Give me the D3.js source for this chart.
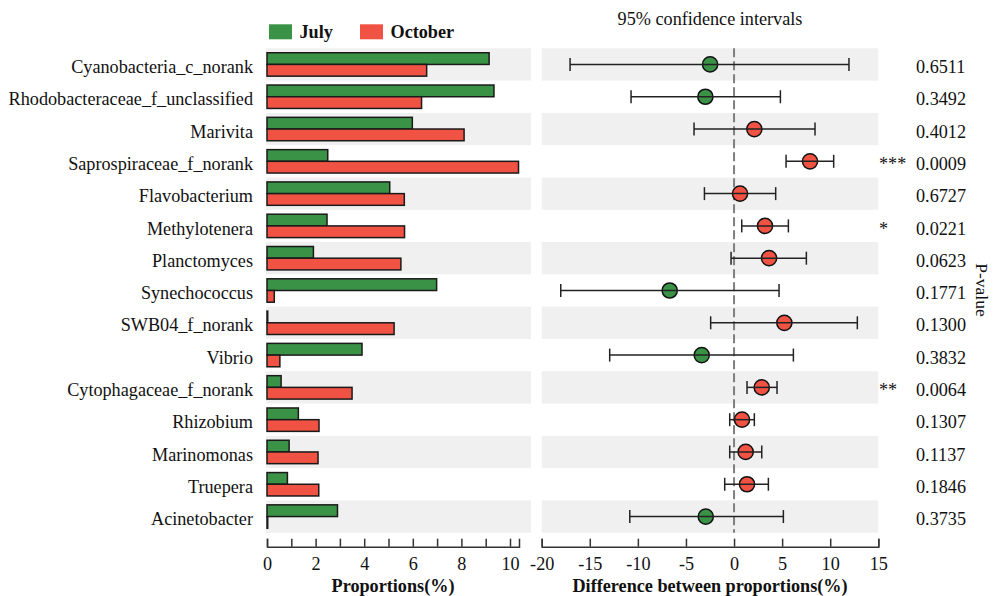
<!DOCTYPE html>
<html>
<head>
<meta charset="utf-8">
<script src="https://cdn.jsdelivr.net/npm/d3@7/dist/d3.min.js"></script>
<style>
  html, body { margin: 0; padding: 0; background: #fff; }
  svg { display: block; font-family: "Liberation Serif", "Times New Roman", serif; }
</style>
</head>
<body>
<svg id="chart" width="993" height="596"></svg>
<script>
// ---- data ----
const categories = [
  "Cyanobacteria_c_norank", "Rhodobacteraceae_f_unclassified", "Marivita",
  "Saprospiraceae_f_norank", "Flavobacterium", "Methylotenera", "Planctomyces",
  "Synechococcus", "SWB04_f_norank", "Vibrio", "Cytophagaceae_f_norank",
  "Rhizobium", "Marinomonas", "Truepera", "Acinetobacter"
];
const july    = [9.14, 9.34, 5.98, 2.50, 5.05, 2.47, 1.91, 6.98, 0.03, 3.91, 0.58, 1.29, 0.91, 0.84, 2.90];
const october = [6.57, 6.36, 8.11, 10.35, 5.65, 5.66, 5.51, 0.30, 5.23, 0.53, 3.50, 2.14, 2.10, 2.13, 0.03];
const diffEst   = [-2.49, -2.98, 2.11, 7.90, 0.62, 3.22, 3.64, -6.69, 5.23, -3.36, 2.88, 0.83, 1.21, 1.35, -2.94];
const ciLow     = [-17.05, -10.71, -4.16, 5.41, -3.08, 0.80, -0.31, -18.02, -2.43, -12.93, 1.35, -0.45, -0.45, -0.97, -10.84];
const ciHigh    = [11.95, 4.82, 8.42, 10.36, 4.33, 5.65, 7.52, 4.68, 12.82, 6.17, 4.47, 2.11, 2.88, 3.57, 5.13];
const pValues   = ["0.6511", "0.3492", "0.4012", "0.0009", "0.6727", "0.0221", "0.0623", "0.1771", "0.1300", "0.3832", "0.0064", "0.1307", "0.1137", "0.1846", "0.3735"];
const propTicks = [0, 1, 2, 3, 4, 5, 6, 7, 8, 9, 10];
const diffTicks = [-20, -15, -10, -5, 0, 5, 10, 15];
const groups = ["July", "October"];

// ---- style ----
const GREEN = "#3a9247", RED = "#f05344", BAND = "#f0f0f0";
const FS = 18.2;
const FF = "Liberation Serif, Times New Roman, serif";
const svg = d3.select("#chart");

const y = d3.scaleBand().domain(categories).range([48.3, 532.7]);
const xL = d3.scaleLinear().domain([0, 10.37]).range([267, 519]);
const xR = d3.scaleLinear().domain([-20, 15]).range([541.7, 878.3]);
const color = d3.scaleOrdinal().domain(groups).range([GREEN, RED]);

const rows = categories.map((c, i) => ({
  c, i, july: july[i], october: october[i], est: diffEst[i], lo: ciLow[i], hi: ciHigh[i], p: pValues[i]
}));

// bands
svg.append("g").selectAll("rect").data(rows.filter(d => d.i % 2 === 0)).join("rect")
  .attr("x", 266).attr("width", 531 - 266)
  .attr("y", d => y(d.c)).attr("height", y.bandwidth())
  .attr("fill", BAND);
svg.append("g").selectAll("rect").data(rows.filter(d => d.i % 2 === 0)).join("rect")
  .attr("x", xR.range()[0]).attr("width", xR.range()[1] - xR.range()[0])
  .attr("y", d => y(d.c)).attr("height", y.bandwidth())
  .attr("fill", BAND);

// labels
svg.append("g").selectAll("text").data(rows).join("text")
  .attr("x", 253).attr("y", d => y(d.c) + y.bandwidth() / 2 + 8.6)
  .attr("text-anchor", "end").attr("font-size", FS).attr("fill", "#111")
  .text(d => d.c);

// bars
const barH = 11.7;
const off = (y.bandwidth() - 2 * barH) / 2;
const barG = svg.append("g");
groups.forEach((g, gi) => {
  const key = g === "July" ? "july" : "october";
  barG.selectAll("rect." + key).data(rows).join("rect")
    .attr("class", key)
    .attr("x", xL(0))
    .attr("y", d => y(d.c) + off + gi * barH)
    .attr("width", d => xL(d[key]) - xL(0))
    .attr("height", barH)
    .attr("fill", color(g)).attr("stroke", "#1a1a1a").attr("stroke-width", 1.5);
});

// left axis
const axL = d3.axisBottom(xL).tickValues(propTicks)
  .tickSizeInner(-8).tickSizeOuter(-8).tickPadding(10)
  .tickFormat(d => d % 2 === 0 ? String(d) : "");
const gL = svg.append("g").attr("transform", "translate(0,546.7)").call(axL);
gL.attr("font-family", FF);
gL.select(".domain").attr("stroke", "#333").attr("stroke-width", 1.5);
gL.selectAll(".tick line").attr("stroke", "#333").attr("stroke-width", 1.5);
gL.selectAll(".tick text").attr("font-size", FS).attr("fill", "#111").attr("font-family", FF);
svg.append("text").attr("x", 393).attr("y", 592).attr("text-anchor", "middle")
  .attr("font-size", FS).attr("font-weight", "bold").attr("fill", "#111")
  .text("Proportions(%)");

// right axis
const axR = d3.axisBottom(xR).tickValues(diffTicks)
  .tickSizeInner(-8).tickSizeOuter(-8).tickPadding(10)
  .tickFormat(d => String(d));
const gR = svg.append("g").attr("transform", "translate(0,546.7)").call(axR);
gR.attr("font-family", FF);
gR.select(".domain").attr("stroke", "#333").attr("stroke-width", 1.5);
gR.selectAll(".tick line").attr("stroke", "#333").attr("stroke-width", 1.5);
gR.selectAll(".tick text").attr("font-size", FS).attr("fill", "#111").attr("font-family", FF);
svg.append("text").attr("x", 710).attr("y", 592).attr("text-anchor", "middle")
  .attr("font-size", FS).attr("font-weight", "bold").attr("fill", "#111")
  .text("Difference between proportions(%)");

// zero dashed line
svg.append("line")
  .attr("x1", xR(0)).attr("x2", xR(0))
  .attr("y1", y.range()[0]).attr("y2", y.range()[1])
  .attr("stroke", "#7f7f7f").attr("stroke-width", 2).attr("stroke-dasharray", "9,4");

// CI points
const ciG = svg.append("g");
const cy = d => y(d.c) + y.bandwidth() / 2;
ciG.selectAll("circle").data(rows).join("circle")
  .attr("cx", d => xR(d.est)).attr("cy", cy).attr("r", 7.6)
  .attr("fill", d => d.est < 0 ? GREEN : RED)
  .attr("stroke", "#111").attr("stroke-width", 1.5);
ciG.selectAll("line.ci").data(rows).join("line").attr("class", "ci")
  .attr("x1", d => xR(d.lo)).attr("x2", d => xR(d.hi))
  .attr("y1", cy).attr("y2", cy)
  .attr("stroke", "#222").attr("stroke-width", 1.5);
ciG.selectAll("line.capL").data(rows).join("line").attr("class", "capL")
  .attr("x1", d => xR(d.lo)).attr("x2", d => xR(d.lo))
  .attr("y1", d => cy(d) - 6.5).attr("y2", d => cy(d) + 6.5)
  .attr("stroke", "#222").attr("stroke-width", 1.5);
ciG.selectAll("line.capH").data(rows).join("line").attr("class", "capH")
  .attr("x1", d => xR(d.hi)).attr("x2", d => xR(d.hi))
  .attr("y1", d => cy(d) - 6.5).attr("y2", d => cy(d) + 6.5)
  .attr("stroke", "#222").attr("stroke-width", 1.5);

// p-values and stars
svg.append("g").selectAll("text").data(rows).join("text")
  .attr("x", 916).attr("y", d => cy(d) + 8.6)
  .attr("font-size", FS).attr("fill", "#111")
  .text(d => d.p);
const stars = p => (+p < 0.001 ? "***" : +p < 0.01 ? "**" : +p < 0.05 ? "*" : "");
svg.append("g").selectAll("text").data(rows.filter(d => stars(d.p))).join("text")
  .attr("x", 879).attr("y", d => cy(d) + 8.6)
  .attr("font-size", FS).attr("fill", "#111")
  .text(d => stars(d.p));

// P-value axis label
svg.append("text").attr("transform", "translate(976,290) rotate(90)")
  .attr("text-anchor", "middle").attr("font-size", 17.5).attr("fill", "#111")
  .text("P-value");

// title
svg.append("text").attr("x", 710).attr("y", 25).attr("text-anchor", "middle")
  .attr("font-size", FS).attr("fill", "#111")
  .text("95% confidence intervals");

// legend
const legX = [269, 360];
const leg = svg.append("g");
groups.forEach((g, i) => {
  leg.append("rect").attr("x", legX[i]).attr("y", 24.3).attr("width", 23).attr("height", 15)
    .attr("fill", color(g));
  leg.append("text").attr("x", legX[i] + 30.5).attr("y", 38.3)
    .attr("font-size", FS).attr("font-weight", "bold").attr("fill", "#111")
    .text(g);
});
</script>
</body>
</html>
